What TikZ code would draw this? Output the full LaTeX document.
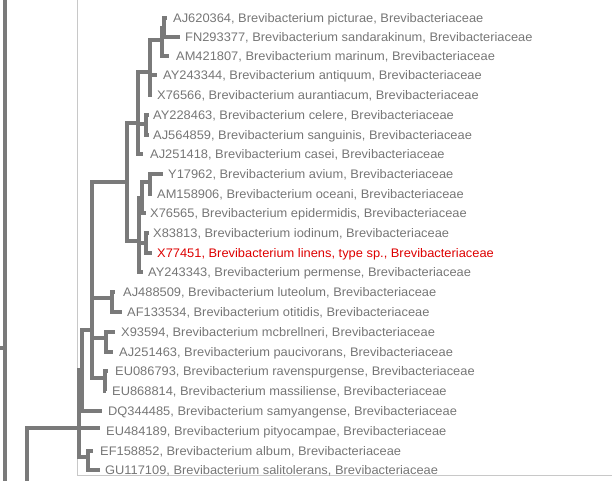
\documentclass[tikz,border=0pt]{standalone}
\usepackage{fontspec}
\setmainfont[FakeStretch=1.037]{Liberation Sans}
\definecolor{treegray}{HTML}{7A7A7A}
\definecolor{labgray}{HTML}{767676}
\definecolor{boxgray}{HTML}{C8C8C8}
\definecolor{labred}{HTML}{DD0000}
\tikzset{
  branch/.style={draw=treegray, line width=4pt},
  lab/.style={anchor=base west, inner sep=0pt, text=labgray, font=\fontsize{12.4}{14}\selectfont},
  redlab/.style={lab, text=labred},
}
\begin{document}
\begin{tikzpicture}[x=1pt,y=-1pt]
\useasboundingbox (0,0) rectangle (612,480);
\clip (0,0) rectangle (612,480);
% frame
\coordinate (bxt) at (77,-5);
\coordinate (bxc) at (77,475);
\coordinate (bxr) at (620,475);
\draw[boxgray, line width=0.9pt] (bxt) -- (bxc) -- (bxr);
% leaves
\coordinate (L1) at (167,18);
\node[lab] (L1t) at (173,22.3) {AJ620364, Brevibacterium picturae, Brevibacteriaceae};
\coordinate (L2) at (180,37);
\node[lab] (L2t) at (185,41.3) {FN293377, Brevibacterium sandarakinum, Brevibacteriaceae};
\coordinate (L3) at (169,56);
\node[lab] (L3t) at (176,60.3) {AM421807, Brevibacterium marinum, Brevibacteriaceae};
\coordinate (L4) at (157,75);
\node[lab] (L4t) at (163,79.3) {AY243344, Brevibacterium antiquum, Brevibacteriaceae};
\coordinate (L5) at (152,95);
\node[lab] (L5t) at (157,99.3) {X76566, Brevibacterium aurantiacum, Brevibacteriaceae};
\coordinate (L6) at (149,115);
\node[lab] (L6t) at (153,119.3) {AY228463, Brevibacterium celere, Brevibacteriaceae};
\coordinate (L7) at (149,135);
\node[lab] (L7t) at (153,139.3) {AJ564859, Brevibacterium sanguinis, Brevibacteriaceae};
\coordinate (L8) at (143,154);
\node[lab] (L8t) at (150,158.3) {AJ251418, Brevibacterium casei, Brevibacteriaceae};
\coordinate (L9) at (163,174);
\node[lab] (L9t) at (168,178.3) {Y17962, Brevibacterium avium, Brevibacteriaceae};
\coordinate (L10) at (152,194);
\node[lab] (L10t) at (157,198.3) {AM158906, Brevibacterium oceani, Brevibacteriaceae};
\coordinate (L11) at (146,213);
\node[lab] (L11t) at (150,217.3) {X76565, Brevibacterium epidermidis, Brevibacteriaceae};
\coordinate (L12) at (149,233);
\node[lab] (L12t) at (153,237.3) {X83813, Brevibacterium iodinum, Brevibacteriaceae};
\coordinate (L13) at (152,253);
\node[redlab] (L13t) at (157,257.3) {X77451, Brevibacterium linens, type sp., Brevibacteriaceae};
\coordinate (L14) at (143,272);
\node[lab] (L14t) at (148,276.3) {AY243343, Brevibacterium permense, Brevibacteriaceae};
\coordinate (L15) at (115,292);
\node[lab] (L15t) at (123,296.3) {AJ488509, Brevibacterium luteolum, Brevibacteriaceae};
\coordinate (L16) at (122,312);
\node[lab] (L16t) at (127,316.3) {AF133534, Brevibacterium otitidis, Brevibacteriaceae};
\coordinate (L17) at (115,332);
\node[lab] (L17t) at (121,336.3) {X93594, Brevibacterium mcbrellneri, Brevibacteriaceae};
\coordinate (L18) at (113,352);
\node[lab] (L18t) at (119,356.3) {AJ251463, Brevibacterium paucivorans, Brevibacteriaceae};
\coordinate (L19) at (108,371);
\node[lab] (L19t) at (115,375.3) {EU086793, Brevibacterium ravenspurgense, Brevibacteriaceae};
\coordinate (L20) at (106,391);
\node[lab] (L20t) at (112,395.3) {EU868814, Brevibacterium massiliense, Brevibacteriaceae};
\coordinate (L21) at (102,411);
\node[lab] (L21t) at (108,415.3) {DQ344485, Brevibacterium samyangense, Brevibacteriaceae};
\coordinate (L22) at (100,428);
\node[lab] (L22t) at (106,435.3) {EU484189, Brevibacterium pityocampae, Brevibacteriaceae};
\coordinate (L23) at (93,451);
\node[lab] (L23t) at (100,455.3) {EF158852, Brevibacterium album, Brevibacteriaceae};
\coordinate (L24) at (100,470);
\node[lab] (L24t) at (105,474.3) {GU117109, Brevibacterium salitolerans, Brevibacteriaceae};
% internal nodes
\coordinate (A1) at (164,28);
\coordinate (A2) at (162,40);
\coordinate (A3) at (150,72);
\coordinate (A4) at (146,124);
\coordinate (A5) at (138,123);
\coordinate (B2a) at (150,182);
\coordinate (B2) at (142,198);
\coordinate (B3) at (146,243);
\coordinate (B1) at (139,241);
\coordinate (AB) at (127,182);
\coordinate (C1) at (112,298);
\coordinate (C2) at (106,338);
\coordinate (C3) at (105,378);
\coordinate (X) at (92,330);
\coordinate (F) at (82,370);
\coordinate (H) at (88,457);
\coordinate (G) at (79,428);
\coordinate (R) at (27,428);
\coordinate (Rb) at (27,485);
\coordinate (FLt) at (5,-5);
\coordinate (FLb) at (5,485);
\coordinate (FLs) at (5,348);
\coordinate (FLe) at (-5,348);
% branches
\foreach \p/\c in {A1/L1,A1/L2,A2/A1,A2/L3,A3/A2,A3/L4,A3/L5,A4/L6,A4/L7,
  A5/A3,A5/A4,A5/L8,B2a/L9,B2a/L10,B2/B2a,B2/L11,B3/L12,B3/L13,
  B1/B2,B1/B3,B1/L14,AB/A5,AB/B1,C1/L15,C1/L16,C2/L17,C2/L18,C3/L19,C3/L20,
  X/AB,X/C1,X/C2,X/C3,F/X,F/L21,H/L23,H/L24,G/F,G/L22,G/H}
  \draw[branch] (\p) |- (\c);
\draw[branch] (Rb) -- (R) -- (G);
\draw[branch] (FLt) -- (FLb);
\draw[branch] (FLe) -- (FLs);
\end{tikzpicture}
\end{document}
